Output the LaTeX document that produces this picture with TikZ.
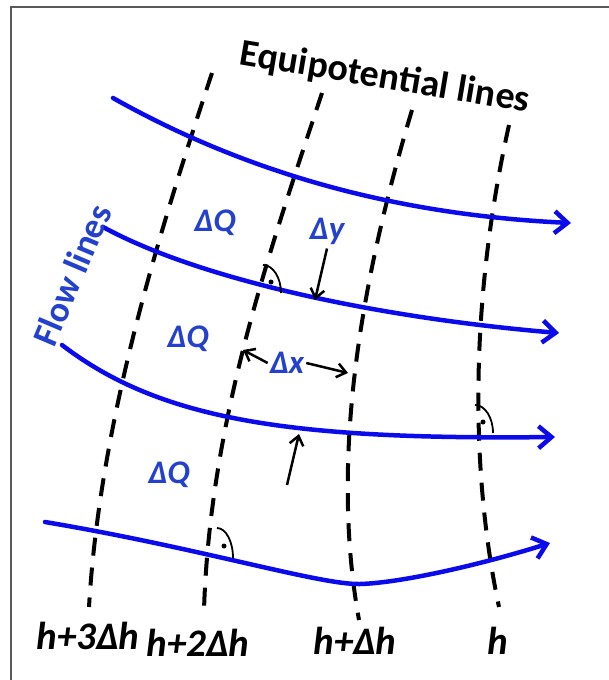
\documentclass[tikz,border=0pt]{standalone}
\usepackage{fontspec}
\setmainfont{Carlito}
\usetikzlibrary{arrows.meta}
\definecolor{flowblue}{RGB}{10,10,235}
\definecolor{labelblue}{RGB}{35,65,205}

\begin{document}
\begin{tikzpicture}[x=1pt,y=-1pt,
  flowline/.style={flowblue, line width=4.5pt, line cap=round, -{Straight Barb[length=13pt,width=22pt]}},
  equiline/.style={black, line width=4pt, dash pattern=on 18pt off 12pt},
  dlabel/.style={labelblue, inner sep=0pt, font=\fontsize{33}{36}\selectfont\bfseries\itshape},
  hlabel/.style={black, inner sep=0pt, font=\fontsize{39}{42}\selectfont\bfseries\itshape},
  pointer/.style={black, line width=2.5pt, -{Straight Barb[length=9pt,width=14pt]}},
  rightmark/.style={black, line width=1.8pt}]
\useasboundingbox (0,0) rectangle (609,680);
\draw[gray!70!black, line width=2pt] (11,680) -- (11,7) -- (609,7);

% equipotential lines
\draw[equiline] (212,73) .. controls (160,230) and (100,420) .. (89,607);
\draw[equiline] (322,93) .. controls (270,250) and (210,420) .. (204,610);
\draw[equiline] (412,110) .. controls (355,300) and (332,470) .. (359,620);
\draw[equiline] (509,125) .. controls (470,300) and (470,470) .. (499,607);

% flow lines
\draw[flowline] (113,98) .. controls (250,175) and (400,215) .. (571,223);
\draw[flowline] (103,227) .. controls (200,280) and (380,318) .. (559,333);
\draw[flowline] (62,345) .. controls (160,420) and (290,440) .. (555,437);
\draw[flowline] (45,522) .. controls (200,548) and (320,585) .. (360,584)
  .. controls (400,583) and (480,565) .. (550,543);

% labels
\node[rotate=-9.5, inner sep=0pt, font=\fontsize{38}{42}\selectfont\bfseries] (equi) at (385,78) {Equipotential lines};
\node[rotate=67, inner sep=0pt, text=labelblue, font=\fontsize{36}{40}\selectfont\bfseries] (flow) at (72,275) {Flow lines};
\node[dlabel] (dq1) at (215,223) {ΔQ};
\node[dlabel] (dq2) at (188,339) {ΔQ};
\node[dlabel] (dq3) at (169,475) {ΔQ};
\node[dlabel] (dy) at (327,231) {Δy};
\node[dlabel] (dx) at (287,363) {Δx};
\node[hlabel] (h3) at (88,636) {h+3Δh};
\node[hlabel] (h2) at (198,643) {h+2Δh};
\node[hlabel] (h1) at (355,641) {h+Δh};
\node[hlabel] (h0) at (498,641) {h};

% pointers
\coordinate (dytip) at (315,300);
\coordinate (dxl) at (243,350);
\coordinate (dxr) at (348,373);
\coordinate (dyb) at (287,485);
\coordinate (dybtip) at (299,434);
\draw[pointer] ([yshift=-4pt]dy.south) -- (dytip);
\draw[pointer] ([xshift=-2pt]dx.west) -- (dxl);
\draw[pointer] ([xshift=2pt]dx.east) -- (dxr);
\draw[pointer] (dyb) -- (dybtip);

% right angles
\coordinate (m1) at (263,265);
\coordinate (m2) at (475,405);
\coordinate (m3) at (217,528);
\draw[rightmark] (m1) arc[start angle=90, end angle=0, x radius=18pt, y radius=28pt];
\draw[rightmark] (m2) arc[start angle=90, end angle=0, x radius=18pt, y radius=28pt];
\draw[rightmark] (m3) arc[start angle=90, end angle=0, x radius=16pt, y radius=30pt];
\fill (271,282) circle (2.5pt);
\fill (483,422) circle (2.5pt);
\fill (224,546) circle (2.5pt);
\end{tikzpicture}
\end{document}
